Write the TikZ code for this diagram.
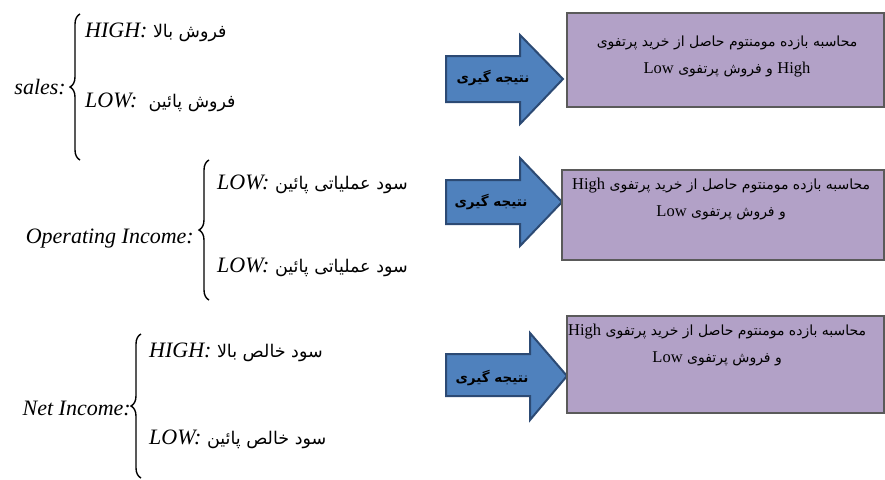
\documentclass[tikz,border=0pt]{standalone}
\usepackage{fontspec}
\setmainfont{Liberation Serif}
\newfontfamily\fafont[Script=Arabic]{DejaVu Sans}
\TeXXeTstate=1
\usetikzlibrary{decorations.pathreplacing}
\definecolor{boxfill}{HTML}{B2A1C7}
\definecolor{boxline}{HTML}{5A5A5A}
\definecolor{arrfill}{HTML}{4F81BD}
\definecolor{arrline}{HTML}{2C4A74}
\newcommand{\fatxt}[1]{{\fafont\upshape\mdseries\fontsize{17.5}{20}\selectfont\beginR #1\endR}}
\newcommand{\boxfa}[1]{{\fafont\upshape\fontsize{14}{17}\selectfont\beginR #1\endR}}
\newcommand{\lat}[1]{{\rmfamily\fontsize{16.5}{18}\selectfont\beginL #1\endL}}
\tikzset{
  lbl/.style={inner sep=0pt, font=\fontsize{22}{26}\selectfont\itshape},
  ent/.style={inner sep=0pt, anchor=base west, font=\fontsize{22}{26}\selectfont\itshape},
  bracestyle/.style={decorate, decoration={brace, amplitude=10pt}, line width=1.4pt},
  resbox/.style={draw=boxline, fill=boxfill, line width=1.3pt},
  arrowshape/.style={draw=arrline, fill=arrfill, line width=2pt, line join=miter},
  arrtext/.style={inner sep=0pt, font=\fafont\bfseries\fontsize{13.5}{16}\selectfont},
  boxtext/.style={inner sep=0pt, align=center, font=\fontsize{15}{27}\selectfont}
}
\begin{document}
\begin{tikzpicture}[x=1pt,y=-1pt]
\useasboundingbox (0,0) rectangle (885,479);

% ---------- left: sales ----------
\coordinate (b1t) at (80,14);
\coordinate (b1b) at (80,160);
\draw[bracestyle] (b1b) -- (b1t);
\node[lbl, anchor=east] (sales) at (66,87) {sales:};
\node[ent] (s-high) at (85,37) {HIGH:\ \fatxt{فروش بالا}};
\node[ent] (s-low) at (85,107) {LOW:\ \ \fatxt{فروش پائین}};

% ---------- left: operating income ----------
\coordinate (b2t) at (209,160);
\coordinate (b2b) at (209,300);
\draw[bracestyle] (b2b) -- (b2t);
\node[lbl, anchor=east] (op) at (194,239) {Operating Income:};
\node[ent] (o-low1) at (217,189) {LOW:\ \fatxt{سود عملیاتی پائین}};
\node[ent] (o-low2) at (217,272) {LOW:\ \fatxt{سود عملیاتی پائین}};

% ---------- left: net income ----------
\coordinate (b3t) at (141,334);
\coordinate (b3b) at (141,478);
\draw[bracestyle] (b3b) -- (b3t);
\node[lbl, anchor=east] (net) at (131,408) {Net Income:};
\node[ent] (n-high) at (149,357) {HIGH:\ \fatxt{سود خالص بالا}};
\node[ent] (n-low) at (149,444) {LOW:\ \fatxt{سود خالص پائین}};

% ---------- arrows ----------
\path[arrowshape] (446,56) -- (520,56) -- (520,35) -- (563,79) -- (520,124) -- (520,102) -- (446,102) -- cycle;
\node[arrtext] (a1) at (493,78) {\beginR نتیجه گیری\endR};

\path[arrowshape] (446,180) -- (520,180) -- (520,158) -- (562,202) -- (520,246) -- (520,224) -- (446,224) -- cycle;
\node[arrtext] (a2) at (491,202) {\beginR نتیجه گیری\endR};

\path[arrowshape] (446,354) -- (530,354) -- (530,333) -- (567,376) -- (530,420) -- (530,396) -- (446,396) -- cycle;
\node[arrtext] (a3) at (492,378) {\beginR نتیجه گیری\endR};

% ---------- boxes ----------
\draw[resbox] (567,13) rectangle (884,107);
\node[boxtext] (t1) at (727,56) {\boxfa{محاسبه بازده مومنتوم حاصل از خرید پرتفوی}\\
  \boxfa{\lat{High} و فروش پرتفوی \lat{Low}}};

\draw[resbox] (562,170) rectangle (884,260);
\node[boxtext, anchor=north west] (t2) at (572,178) {\boxfa{محاسبه بازده مومنتوم حاصل از خرید پرتفوی \lat{High}}\\
  \boxfa{و فروش پرتفوی \lat{Low}}};

\draw[resbox] (567,316) rectangle (884,413);
\node[boxtext, anchor=north west] (t3) at (568,324) {\boxfa{محاسبه بازده مومنتوم حاصل از خرید پرتفوی \lat{High}}\\
  \boxfa{و فروش پرتفوی \lat{Low}}};
\end{tikzpicture}
\end{document}
